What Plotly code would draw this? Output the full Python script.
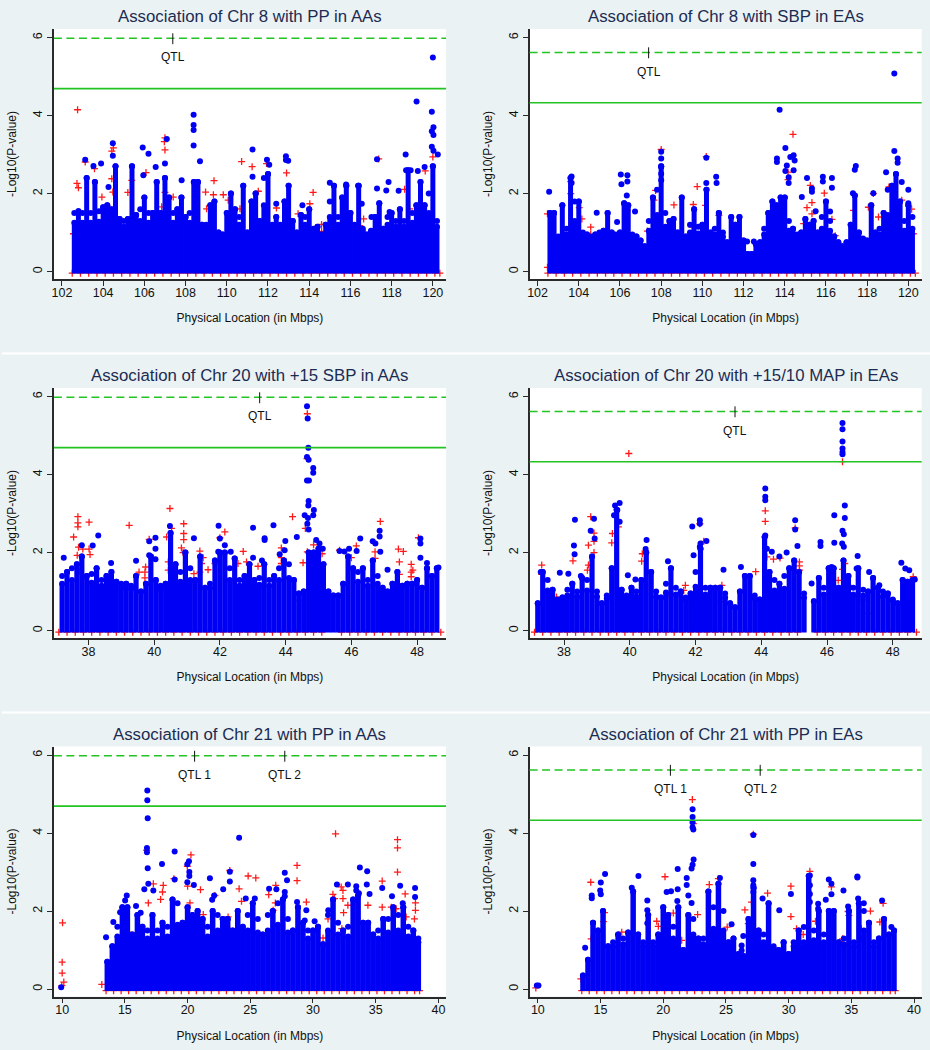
import plotly.graph_objects as go

TITLES = ["Association of Chr 8 with PP in AAs", "Association of Chr 8 with SBP in EAs",
          "Association of Chr 20 with +15 SBP in AAs", "Association of Chr 20 with +15/10 MAP in EAs",
          "Association of Chr 21 with PP in AAs", "Association of Chr 21 with PP in EAs"]
X_TITLE = "Physical Location (in Mbps)"
Y_TITLE = "-Log10(P-value)"
Y_TICKS = [0, 2, 4, 6]
CHR8_TICKS = [102, 104, 106, 108, 110, 112, 114, 116, 118, 120]
CHR20_TICKS = [38, 40, 42, 44, 46, 48]
CHR21_TICKS = [10, 15, 20, 25, 30, 35, 40]
AA_DASHED, AA_SOLID = 5.98, 4.69
EA_DASHED, EA_SOLID = 5.62, 4.33
QTL_POS = [[107.38], [107.39], [43.21], [43.2], [20.56, 27.75], [20.57, 27.73]]

CHR8_X = [102.6,102.8,103.0,103.2,103.4,103.6,103.8,104.0,104.2,104.4,104.6,104.8,105.0,105.2,105.4,105.6,105.8,106.0,106.2,106.4,
          106.6,106.8,107.0,107.2,107.4,107.6,107.8,108.0,108.2,108.4,108.6,108.8,109.0,109.2,109.4,109.6,109.8,110.0,110.2,110.4,
          110.6,110.8,111.0,111.2,111.4,111.6,111.8,112.0,112.2,112.4,112.6,112.8,113.0,113.2,113.4,113.6,113.8,114.0,114.2,114.4,
          114.6,114.8,115.0,115.2,115.4,115.6,115.8,116.0,116.2,116.4,116.6,116.8,117.0,117.2,117.4,117.6,117.8,118.0,118.2,118.4,
          118.6,118.8,119.0,119.2,119.4,119.6,119.8,120.0,120.2]
CHR20_X = [37.2,37.35,37.5,37.65,37.8,37.95,38.1,38.25,38.4,38.55,38.7,38.85,39.0,39.15,39.3,39.45,39.6,39.75,39.9,40.05,
           40.2,40.35,40.5,40.65,40.8,40.95,41.1,41.25,41.4,41.55,41.7,41.85,42.0,42.15,42.3,42.45,42.6,42.75,42.9,43.05,
           43.2,43.35,43.5,43.65,43.8,43.95,44.1,44.25,44.4,44.55,44.7,44.85,45.0,45.15,45.3,45.45,45.6,45.75,45.9,46.05,
           46.2,46.35,46.5,46.65,46.8,46.95,47.1,47.25,47.4,47.55,47.7,47.85,48.0,48.15,48.3,48.45,48.6]
CHR21_X = [13.6,14.0,14.4,14.8,15.2,15.6,16.0,16.4,16.8,17.2,17.6,18.0,18.4,18.8,19.2,19.6,20.0,20.4,20.8,21.2,
           21.6,22.0,22.4,22.8,23.2,23.6,24.0,24.4,24.8,25.2,25.6,26.0,26.4,26.8,27.2,27.6,28.0,28.4,28.8,29.2,
           29.6,30.0,30.4,30.8,31.2,31.6,32.0,32.4,32.8,33.2,33.6,34.0,34.4,34.8,35.2,35.6,36.0,36.4,36.8,37.2,
           37.6,38.0,38.4]

# height of the cloud at each column
P1_CLOUD = [1.5,1.55,1.5,2.4,1.5,2.3,1.55,1.65,1.7,1.6,2.7,1.35,1.3,1.35,2.7,1.45,1.6,1.9,1.5,1.5,
            2.3,1.5,2.4,1.9,1.5,1.6,1.9,1.4,1.5,2.3,2.3,1.2,1.2,1.7,1.8,1.0,0.95,1.5,2.0,1.6,
            1.4,2.2,1.0,1.8,2.0,1.3,2.4,2.5,1.2,1.4,1.2,1.8,2.2,1.3,1.0,1.45,1.4,1.6,1.1,1.15,
            0.95,1.2,1.8,2.2,1.4,1.9,2.2,1.5,1.2,2.2,1.1,0.95,1.05,1.4,1.75,1.1,1.4,1.5,1.3,1.6,
            1.3,2.6,1.5,1.7,2.3,1.7,2.0,2.7,1.3]
P2_CLOUD = [1.5,1.5,0.9,1.7,1.1,2.4,1.8,1.8,1.0,0.95,0.9,0.95,1.0,1.05,1.5,1.0,0.95,1.0,1.75,1.7,
            0.95,0.9,0.8,0.65,1.3,1.9,2.1,2.7,1.5,1.3,1.35,1.0,1.9,0.9,1.2,1.6,1.15,1.2,2.1,1.0,
            1.1,1.5,1.0,0.75,1.4,1.2,1.4,0.8,0.45,0.45,0.7,0.75,1.1,1.5,1.8,1.7,1.9,1.9,1.3,1.1,
            0.95,1.0,1.35,1.2,1.3,1.0,1.4,1.8,1.3,0.9,0.75,0.65,0.75,1.2,1.95,1.0,0.85,0.8,1.7,1.0,
            1.1,1.5,2.1,2.2,2.5,1.8,1.3,1.7,1.4]
P3_CLOUD = [1.4,1.5,1.6,1.7,1.9,1.4,1.45,1.6,1.3,1.4,1.5,1.25,1.2,1.2,1.15,1.4,1.0,1.2,1.9,1.3,
            1.15,1.2,2.5,1.7,1.5,2.0,1.6,1.3,1.9,1.1,1.2,1.8,2.0,2.0,1.6,1.85,1.3,1.4,1.7,1.3,
            1.35,1.7,1.3,1.4,1.6,1.8,1.7,1.3,0.95,1.0,2.0,2.0,2.1,1.7,1.0,0.9,0.9,1.2,1.9,1.6,
            1.5,1.6,1.3,1.8,1.4,1.1,1.0,1.2,1.5,1.15,1.2,1.2,1.3,1.1,1.6,1.4,1.6]
P4_CLOUD = [0.7,1.5,1.3,1.05,0.8,0.85,1.05,1.2,1.0,1.35,1.3,1.9,1.0,0.7,0.9,1.6,3.1,1.05,0.9,1.1,
            1.0,1.3,2.0,1.5,1.0,0.85,1.2,1.6,1.1,1.0,0.85,0.95,1.5,2.1,1.1,1.1,1.1,1.1,0.95,0.7,
            0.6,1.0,1.4,1.4,0.9,0.8,2.4,1.5,1.3,1.2,1.4,1.6,1.8,1.5,0.95,None,0.75,1.35,1.1,1.6,
            1.6,1.1,1.8,1.4,1.1,1.6,1.05,1.0,1.35,1.1,1.0,0.95,0.8,0.7,1.3,1.25,1.3]
P5_CLOUD = [0.7,1.1,1.6,2.1,2.1,1.4,1.9,1.6,1.5,1.9,1.5,1.7,1.6,2.3,2.2,1.7,2.1,1.9,2.0,1.8,
            1.6,2.0,1.9,1.8,1.8,1.5,2.0,1.6,1.9,2.2,1.8,1.4,1.9,2.0,2.2,2.3,1.8,1.5,2.1,1.7,
            1.5,1.5,1.6,1.15,1.9,2.3,1.7,1.5,1.6,2.3,2.4,1.7,1.7,1.4,1.5,1.8,1.8,2.1,1.9,2.1,
            1.6,1.5,1.3]
P6_CLOUD = [0.35,0.75,1.7,1.5,2.0,1.1,1.2,1.4,1.3,1.45,2.5,1.4,1.2,1.9,1.2,1.4,2.1,1.9,1.6,2.1,
            1.0,1.9,1.8,1.3,1.3,2.5,2.1,2.7,2.0,1.2,1.3,0.9,0.85,1.8,2.6,1.5,1.4,2.2,1.1,1.0,
            1.2,0.9,1.2,1.5,1.2,2.9,1.5,2.0,1.4,2.0,2.0,1.2,1.3,2.0,1.2,2.2,2.0,1.7,1.2,1.3,
            1.8,1.4,1.5]
# level up to which each panel's cloud is solid blue
SOLID_LEVEL = [1.0, 0.8, 1.0, 0.75, 1.1, 1.0]

# separate blue points above the cloud
P1_BLUE_X = [119.21,120.0,119.95,120.03,119.95,120.03,119.95,120.03,120.24,118.68,117.29,108.39,108.39,108.39,108.39,108.7,104.47,104.47,105.92,106.2,107.09,107.0,111.25,111.95,112.06,112.87,112.87,112.98,103.13,103.9,103.53,111.25,104.26,106.55,105.95,119.27,119.6,118.7,118.92,117.85,117.29,117.74,118.34,107.81,108.57,115.79,115.0,116.37,113.67,112.4,116.55,117.9,117.02]
P1_BLUE_Y = [4.36,5.49,4.1,3.7,3.6,3.5,3.2,3.1,3.0,3.0,2.88,4.02,3.76,3.63,3.23,2.83,3.29,2.97,3.18,3.02,3.4,2.77,3.13,2.87,2.74,2.96,2.86,2.84,2.87,2.77,2.71,2.43,2.17,2.68,2.47,2.58,2.68,2.6,2.6,2.3,2.13,2.08,2.07,2.34,2.29,2.23,2.28,2.2,1.7,1.74,1.74,1.53,1.4]
P1_RED_X = [102.76,103.13,103.58,104.5,104.42,104.42,104.47,104.53,102.73,102.8,103.94,105.2,105.39,106.08,107.0,106.97,107.0,107.0,106.84,107.4,110.72,111.23,109.38,108.97,109.35,109.83,110.07,109.02,111.93,111.53,112.9,112.41,114.19,114.03,113.46,114.6,114.6,116.64,117.37,118.63,118.87,119.63,120.0,119.6,110.64,117.9,116.45,112.01,102.56]
P1_RED_Y = [4.15,2.81,2.64,3.17,3.09,2.38,2.04,1.61,2.26,2.15,1.91,2.03,2.34,2.54,3.43,3.33,3.12,2.03,1.66,1.91,2.82,2.69,2.33,2.04,1.97,1.97,1.83,1.61,2.77,2.06,2.53,1.63,2.03,1.74,1.48,1.21,1.03,1.35,2.89,2.11,1.61,2.58,2.94,1.53,1.61,1.14,1.18,1.0,0.97]

P2_BLUE_X = [119.32,113.75,114.03,119.32,119.48,119.48,113.62,113.62,114.43,114.27,114.48,114.1,114.43,114.03,114.19,114.19,108.0,108.0,110.19,108.0,108.0,108.0,106.04,106.36,106.36,106.07,106.33,103.65,103.65,102.56,104.87,106.73,105.86,110.67,110.69,110.19,115.08,115.85,115.85,116.29,116.29,117.45,117.4,117.31,114.83,115.32,115.32,118.92,119.68,120.0,118.3,115.5,116.2,112.17,112.5,120.0]
P2_BLUE_Y = [5.08,4.15,3.17,3.09,2.9,2.79,2.9,2.81,2.98,2.94,2.85,2.72,2.6,2.58,2.42,2.27,3.07,2.9,2.92,2.68,2.51,2.34,2.49,2.47,2.31,2.24,1.95,2.44,2.27,2.05,1.51,1.54,1.27,2.43,2.27,2.27,2.4,2.43,2.31,2.4,2.15,2.71,2.61,2.01,1.91,2.13,2.05,2.55,2.3,2.1,2.01,1.55,1.54,0.77,0.77,1.75]
P2_RED_X = [114.4,108.0,110.19,109.75,109.56,108.62,110.15,104.58,104.58,104.15,103.61,103.61,104.02,115.08,115.32,115.32,115.24,115.92,116.29,114.16,114.16,118.3,118.06,118.55,117.34,119.06,119.68,119.27,114.92,120.16,120.24,107.73,107.65,107.33,108.05,102.48,102.48,106.36,116.45,110.8,111.77,109.5]
P2_RED_Y = [3.52,3.13,2.95,2.18,1.72,1.71,1.7,1.14,0.95,1.35,2.31,2.0,1.64,1.64,1.77,1.48,2.21,2.01,1.34,2.55,2.36,2.0,1.65,1.4,1.57,2.17,1.83,1.27,1.23,1.6,0.97,2.08,1.83,1.04,1.53,1.48,0.11,1.57,0.92,1.44,0.63,1.14]

P3_BLUE_X = [44.65,44.67,44.69,44.65,44.7,44.84,44.84,44.65,44.71,44.7,44.69,44.86,44.84,44.58,44.68,44.7,44.66,43.01,43.63,44.34,43.99,43.36,43.36,41.96,42.0,40.48,41.21,40.04,39.85,40.04,39.85,40.04,39.45,38.3,38.13,37.25,37.8,38.69,44.93,45.03,45.13,46.27,46.65,46.73,46.86,46.86,46.88,48.1,48.1,48.1,47.1,48.3,45.93,45.64,45.79,46.16,48.65,42.15,41.95,42.33,43.01,43.28,43.97,43.82]
P3_BLUE_Y = [5.75,5.44,4.69,4.45,4.38,4.17,4.05,3.85,3.85,3.32,3.21,3.09,2.96,2.96,2.89,2.59,2.74,2.64,2.7,2.4,2.3,2.37,2.32,2.69,2.36,2.68,2.37,2.38,2.29,2.1,1.93,1.83,1.79,2.44,2.18,1.87,2.19,1.73,2.32,2.23,2.1,2.36,2.29,2.23,2.56,2.41,2.02,2.36,2.23,1.87,1.56,1.73,2.1,2.04,2.03,2.04,1.62,2.19,2.02,2.02,1.87,1.8,2.06,1.96]
P3_RED_X = [40.48,44.21,37.68,37.68,37.68,38.02,39.24,37.55,37.7,37.83,38.02,38.05,37.66,37.72,39.85,39.74,39.72,39.54,39.72,40.38,40.53,40.9,40.9,40.9,40.83,40.88,40.43,40.43,42.15,42.0,41.39,41.44,41.49,41.39,41.21,41.64,41.85,42.71,42.81,42.55,43.16,42.83,42.81,42.55,43.87,43.87,43.87,44.53,44.6,44.66,44.66,44.65,44.85,45.11,45.08,46.88,46.72,46.72,46.15,46.0,47.43,47.58,47.46,47.46,47.82,47.87,47.82,47.82,48.04,45.64,38.86,44.38]
P3_RED_Y = [3.13,2.92,2.92,2.76,2.66,2.78,2.7,2.4,2.14,2.09,2.09,1.95,1.93,1.52,2.34,1.63,1.5,1.5,1.35,2.4,2.62,2.74,2.49,2.33,2.12,2.0,1.55,1.76,2.53,2.38,2.04,1.72,1.87,1.5,1.46,1.56,1.72,2.03,1.76,1.72,1.65,1.18,0.99,0.86,2.12,1.87,1.72,1.74,2.62,2.02,5.56,4.41,2.2,1.97,1.65,2.8,2.02,1.85,2.17,1.87,2.09,2.03,1.76,1.44,1.7,1.55,1.5,1.38,2.38,2.06,1.12,0.78]

P4_BLUE_X = [46.47,46.47,46.47,46.47,46.47,46.47,44.12,44.12,44.12,46.54,46.54,46.22,45.03,45.03,45.1,46.47,46.51,46.46,46.51,46.22,45.8,45.8,38.33,38.3,38.32,38.91,38.81,38.93,44.12,44.17,41.9,42.13,42.13,42.33,42.13,42.15,40.51,40.48,39.69,39.55,39.52,39.62,39.69,42.85,41.94,41.16,46.93,47.28,46.9,48.26,48.38,48.5,48.67,47.59,37.87,37.29,43.38,44.77,44.55,44.32,39.94,45.53,40.17,38.51,38.13,46.14]
P4_BLUE_Y = [5.32,5.16,4.85,4.67,4.58,4.52,3.64,3.43,3.34,3.21,2.89,2.96,2.83,2.59,2.17,2.56,2.47,2.23,2.15,2.25,2.27,2.17,2.84,2.18,1.96,2.87,2.56,2.36,2.44,2.1,2.67,2.83,2.74,2.3,2.15,2.23,2.32,2.09,3.27,3.21,2.96,3.09,2.79,1.56,1.93,1.78,1.91,1.5,1.59,1.74,1.59,1.55,1.31,1.16,1.48,1.5,1.63,2.0,1.9,2.02,1.42,1.21,1.31,1.4,1.46,1.63]
P4_RED_X = [39.97,46.47,44.12,44.12,38.81,38.91,38.91,38.74,38.91,38.74,38.71,38.27,37.32,37.32,37.77,39.65,39.47,39.45,40.38,40.36,43.83,42.13,42.25,41.69,41.64,41.2,41.74,42.8,44.17,44.37,44.57,45.16,45.16,45.16,45.03,46.47,46.54,46.34,47.1,39.36,43.69,48.62,46.65,44.37,42.75,47.25]
P4_RED_Y = [4.54,4.33,3.07,2.8,2.92,2.5,2.29,2.19,2.0,1.68,1.55,1.79,1.68,1.44,0.86,2.66,2.49,2.25,1.97,1.78,1.51,2.74,2.29,1.16,1.03,0.9,0.78,1.16,1.89,1.83,1.86,1.76,1.66,1.55,2.63,1.57,1.72,1.29,0.78,0.8,0.92,1.38,1.16,0.69,0.74,0.44]

P5_BLUE_X = [9.92,16.79,16.79,16.82,16.76,16.76,16.82,16.87,16.55,17.96,18.97,18.97,24.11,23.37,23.37,20.11,19.98,20.14,20.14,19.98,20.5,21.78,22.84,27.75,27.93,26.5,27.08,27.75,27.75,33.74,34.32,34.29,34.51,31.91,32.78,33.45,33.45,33.66,35.52,36.95,38.14,38.14,36.3,37.16,17.27,15.15,15.02,21.96,22.12,24.64,25.36,28.73,29.47,29.34,30.13,14.08,13.5,14.62,15.89,16.26,31.22]
P5_BLUE_Y = [0.05,5.09,4.84,4.38,3.62,3.51,3.1,2.7,2.56,3.21,3.53,2.81,3.88,3.01,2.76,3.28,3.2,3.0,2.9,2.74,2.67,2.84,2.56,2.98,2.79,2.57,2.56,2.49,2.38,3.12,3.02,2.68,2.44,2.68,2.68,2.64,2.53,2.46,2.59,2.65,2.59,2.36,2.38,2.2,2.53,2.4,2.27,2.29,2.4,2.32,2.32,2.23,2.02,1.76,1.74,1.72,1.33,1.97,2.13,1.96,2.02]
P5_RED_X = [10.03,10.0,10.0,10.13,9.97,13.16,31.8,36.74,36.74,36.74,35.52,37.35,35.52,38.17,38.17,38.09,28.73,28.73,29.47,24.83,25.44,23.37,24.11,24.3,20.27,19.98,20.0,20.19,21.03,18.06,18.0,17.27,17.85,16.87,16.74,18.91,22.18,27.03,26.47,26.82,27.0,31.59,31.72,32.25,32.39,32.39,32.44,32.78,34.38,36.24,36.63,37.43,31.2,32.3,21.25,23.23,15.28,23.37,30.8,19.52,22.89]
P5_RED_Y = [1.7,0.69,0.41,0.18,0.09,0.12,3.98,3.83,3.62,3.0,2.77,2.44,2.1,2.21,2.02,1.8,3.17,2.78,2.23,2.9,2.85,3.04,2.57,2.25,3.44,3.15,2.64,2.21,2.55,2.66,2.49,2.7,2.3,2.21,3.56,2.83,2.4,2.66,2.42,2.02,2.21,2.43,2.32,2.62,2.53,2.32,1.96,2.15,2.15,2.1,2.06,1.85,1.8,1.55,1.91,1.85,1.46,1.5,1.31,1.33,1.4]

P6_BLUE_X = [9.92,10.05,22.34,22.34,22.34,22.34,22.4,27.18,22.42,22.34,22.26,27.18,21.15,21.87,21.87,15.36,18.02,17.49,15.02,14.97,15.02,14.3,14.3,18.73,18.73,18.73,13.77,20.27,20.62,21.15,21.12,22.0,22.26,24.52,27.18,27.18,27.18,27.92,29.25,30.18,31.69,31.69,31.69,31.69,33.2,33.41,33.41,32.96,34.37,34.74,35.48,35.48,35.54,35.99,37.45,38.19,26.25,26.25,25.45,26.38,32.35,32.35,31.21]
P6_BLUE_Y = [0.09,0.09,4.61,4.41,4.28,4.15,4.09,3.95,3.32,3.19,3.09,3.21,3.08,2.85,2.67,2.95,2.9,2.6,2.73,2.53,2.43,2.4,2.33,2.27,2.02,1.69,1.06,2.49,2.51,2.56,2.26,2.4,2.21,2.85,2.79,2.66,2.49,2.32,2.02,2.44,2.91,2.66,2.44,2.23,2.81,2.7,2.43,2.29,2.53,2.12,2.89,2.86,2.32,2.2,2.27,1.59,1.12,0.99,1.66,1.36,2.19,2.06,1.59]
P6_RED_X = [22.32,22.4,27.18,20.14,14.22,24.39,23.67,22.74,20.8,19.48,19.61,15.31,15.23,14.25,25.1,26.51,26.78,27.04,28.32,30.18,30.18,31.16,31.69,32.14,33.41,34.74,34.8,34.3,35.8,36.52,37.53,37.27,37.66,35.8,30.63,23.99,21.47,22.8,13.43,9.84,16.69]
P6_RED_Y = [4.86,4.24,3.97,2.88,2.74,2.83,2.68,1.91,1.95,1.74,1.61,1.96,1.73,1.29,1.59,2.03,1.68,2.23,2.46,2.64,1.86,1.4,3.02,1.74,2.62,1.99,1.89,1.29,1.55,2.0,2.2,1.72,1.38,1.29,1.55,1.08,1.25,1.21,0.26,0.03,1.46]

# red points just peeking out under the blue cloud
CHR8_FLOOR = [102.5,102.9,103.3,103.7,104.1,104.5,104.9,105.3,105.7,106.1,106.5,106.9,107.3,107.7,108.1,108.5,108.9,109.3,109.7,110.1,110.5,110.9,111.3,111.7,112.1,112.5,112.9,113.3,113.7,114.1,114.5,114.9,115.3,115.7,116.1,116.5,116.9,117.3,117.7,118.1,118.5,118.9,119.3,119.7,120.1,120.34]
CHR20_FLOOR = [37.1,37.35,37.6,37.85,38.1,38.35,38.6,38.85,39.1,39.35,39.6,39.85,40.1,40.35,40.6,40.85,41.1,41.35,41.6,41.85,42.1,42.35,42.6,42.85,43.1,43.35,43.6,43.85,44.1,44.35,44.6,44.85,45.1,45.7,45.95,46.2,46.45,46.7,46.95,47.2,47.45,47.7,47.95,48.2,48.45,48.72]
CHR21_FLOOR = [13.5,14.1,14.7,15.3,15.9,16.5,17.1,17.7,18.3,18.9,19.5,20.1,20.7,21.3,21.9,22.5,23.1,23.7,24.3,24.9,25.5,26.1,26.7,27.3,27.9,28.5,29.1,29.7,30.3,30.9,31.5,32.1,32.7,33.3,33.9,34.5,35.1,35.7,36.3,36.9,37.5,38.1,38.5]

# pixel frames (left, right, top, bottom) and x-axis ranges of the six panels
W, H = 930, 1050
FRAMES = [(52, 445, 29, 279), (528.7, 921.7, 29, 279),
          (52, 445, 388, 638), (528.7, 921.7, 388, 638),
          (52, 445, 746.5, 996.5), (528.7, 921.7, 746.5, 996.5)]
X_RANGES = [(101.61, 120.64), (101.61, 120.65), (36.95, 48.88), (36.95, 48.88), (9.34, 40.61), (9.34, 40.61)]
Y_RANGE = (-0.19, 6.22)
BG = "#eaf2f3"
BLUE = "#0000f5"
RED = "#ff1a1a"
GREEN = "#22c322"
AXIS = "#2a2a2a"
TITLE_COL = "#1c2b52"
FONT = "Liberation Sans, Arial, sans-serif"

PANELS = [
    (CHR8_X, P1_CLOUD, P1_BLUE_X, P1_BLUE_Y, P1_RED_X, P1_RED_Y, CHR8_FLOOR, CHR8_TICKS, AA_DASHED, AA_SOLID, 5.0),
    (CHR8_X, P2_CLOUD, P2_BLUE_X, P2_BLUE_Y, P2_RED_X, P2_RED_Y, CHR8_FLOOR, CHR8_TICKS, EA_DASHED, EA_SOLID, 5.0),
    (CHR20_X, P3_CLOUD, P3_BLUE_X, P3_BLUE_Y, P3_RED_X, P3_RED_Y, CHR20_FLOOR, CHR20_TICKS, AA_DASHED, AA_SOLID, 5.2),
    (CHR20_X, P4_CLOUD, P4_BLUE_X, P4_BLUE_Y, P4_RED_X, P4_RED_Y, CHR20_FLOOR, CHR20_TICKS, EA_DASHED, EA_SOLID, 5.2),
    (CHR21_X, P5_CLOUD, P5_BLUE_X, P5_BLUE_Y, P5_RED_X, P5_RED_Y, CHR21_FLOOR, CHR21_TICKS, AA_DASHED, AA_SOLID, 5.5),
    (CHR21_X, P6_CLOUD, P6_BLUE_X, P6_BLUE_Y, P6_RED_X, P6_RED_Y, CHR21_FLOOR, CHR21_TICKS, EA_DASHED, EA_SOLID, 5.5),
]

FLOOR = -0.05


def stem_tops(tops, level):
    """Odd columns and local peaks keep their full height; the rest stop part-way to the solid level."""
    out = []
    for k, v in enumerate(tops):
        if v is None:
            out.append(None)
            continue
        left = tops[k - 1] if k > 0 and tops[k - 1] is not None else 0
        right = tops[k + 1] if k + 1 < len(tops) and tops[k + 1] is not None else 0
        out.append(v if (k % 2 == 1 or (v >= left and v >= right)) else min(v, (v + level) / 2))
    return out


fig = go.Figure()
layout = dict(
    width=W, height=H, margin=dict(l=0, r=0, t=0, b=0), autosize=False,
    paper_bgcolor=BG, plot_bgcolor="white", showlegend=False,
    font=dict(family=FONT, color="#111111", size=12),
)
annotations, shapes = [], []

for i, (cx, ctop, bx, by, rx, ry, fx, xticks, dashed, solid, thick) in enumerate(PANELS):
    n = "" if i == 0 else str(i + 1)
    xa, ya = "x" + n, "y" + n
    l, r, t, b = FRAMES[i]

    red_x = list(rx) + list(fx)
    red_y = list(ry) + [-0.04] * len(fx)
    fig.add_trace(go.Scatter(x=red_x, y=red_y, mode="markers", xaxis=xa, yaxis=ya,
                             marker=dict(symbol="cross-thin", size=5, line=dict(color=RED, width=1.3))))
    stems = stem_tops(ctop, SOLID_LEVEL[i])
    minus = [None if v is None else v - FLOOR for v in stems]
    fig.add_trace(go.Scatter(x=cx, y=stems, mode="markers", xaxis=xa, yaxis=ya,
                             marker=dict(symbol="circle", size=6, color=BLUE),
                             error_y=dict(type="data", symmetric=False, array=[0] * len(cx), arrayminus=minus,
                                          thickness=thick, width=0, color=BLUE)))
    fig.add_trace(go.Scatter(x=cx, y=ctop, mode="markers", xaxis=xa, yaxis=ya,
                             marker=dict(symbol="circle", size=6, color=BLUE)))
    fig.add_trace(go.Scatter(x=bx, y=by, mode="markers", xaxis=xa, yaxis=ya,
                             marker=dict(symbol="circle", size=6, color=BLUE)))

    layout["xaxis" + n] = dict(
        domain=[l / W, r / W], range=list(X_RANGES[i]), anchor=ya, tickmode="array", tickvals=xticks,
        ticks="outside", ticklen=5, tickwidth=1, tickcolor=AXIS, showline=True, linecolor=AXIS, linewidth=1.5,
        showgrid=False, zeroline=False, tickfont=dict(size=12.5, color="#111111"), ticklabelstandoff=-4,
        title=dict(text=X_TITLE, standoff=15, font=dict(size=12, color="#111111")))
    layout["yaxis" + n] = dict(
        domain=[1 - b / H, 1 - t / H], range=list(Y_RANGE), anchor=xa, tickmode="array", tickvals=Y_TICKS,
        ticks="outside", ticklen=5, tickwidth=1, tickcolor=AXIS, showline=True, linecolor=AXIS, linewidth=1.5,
        showgrid=False, zeroline=False, tickangle=-90, tickfont=dict(size=12.5, color="#111111"),
        title=dict(text=Y_TITLE, standoff=12, font=dict(size=12, color="#111111")))

    shapes.append(dict(type="line", xref=xa + " domain", yref=ya, x0=0, x1=1, y0=dashed, y1=dashed,
                       line=dict(color=GREEN, width=1.5, dash="8px,4.5px")))
    shapes.append(dict(type="line", xref=xa + " domain", yref=ya, x0=0, x1=1, y0=solid, y1=solid,
                       line=dict(color=GREEN, width=1.6)))

    annotations.append(dict(text=TITLES[i], xref="paper", yref="paper", x=(l + r) / 2 / W, y=1 - (t - 12.5) / H,
                            showarrow=False, xanchor="center", yanchor="middle",
                            font=dict(size=16.8, color=TITLE_COL, family=FONT)))
    labels = ["QTL"] if len(QTL_POS[i]) == 1 else ["QTL 1", "QTL 2"]
    for q, lab in zip(QTL_POS[i], labels):
        shapes.append(dict(type="line", xref=xa, yref=ya, x0=q, x1=q, y0=dashed - 0.15, y1=dashed + 0.13,
                           line=dict(color="#111111", width=1)))
        annotations.append(dict(text=lab, xref=xa, yref=ya, x=q, y=dashed - 0.49, showarrow=False,
                                xanchor="center", yanchor="middle", font=dict(size=12, color="#111111")))

# white hairlines separating the rows of the composite
for sep in (353.5, 712.5):
    shapes.append(dict(type="line", xref="paper", yref="paper", x0=0, x1=1, y0=1 - sep / H, y1=1 - sep / H,
                       line=dict(color="white", width=2)))

layout["annotations"] = annotations
layout["shapes"] = shapes
fig.update_layout(**layout)
fig.write_html("out.html", config={"displayModeBar": False},
               post_script="document.body.style.margin='0';document.body.style.background='" + BG + "';")
